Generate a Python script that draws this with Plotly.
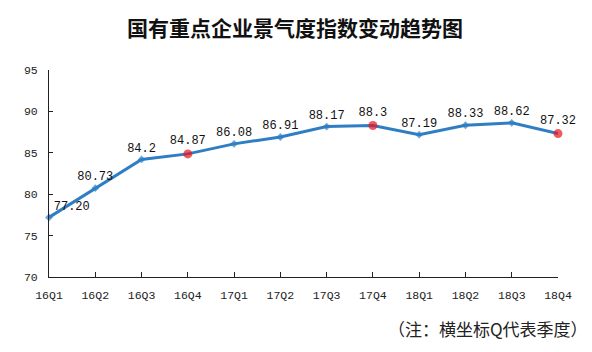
import plotly.graph_objects as go

quarters = ["16Q1", "16Q2", "16Q3", "16Q4", "17Q1", "17Q2", "17Q3", "17Q4", "18Q1", "18Q2", "18Q3", "18Q4"]
values = [77.20, 80.73, 84.2, 84.87, 86.08, 86.91, 88.17, 88.3, 87.19, 88.33, 88.62, 87.32]
labels = ["77.20", "80.73", "84.2", "84.87", "86.08", "86.91", "88.17", "88.3", "87.19", "88.33", "88.62", "87.32"]
highlight = ["16Q4", "17Q4", "18Q4"]

xi = list(range(len(quarters)))
line_color = "#2f7ec4"
marker_colors = ["#e8141b" if q in highlight else line_color for q in quarters]
marker_sizes = [9 if q in highlight else 6 for q in quarters]
marker_symbols = ["circle" if q in highlight else "diamond" for q in quarters]
text_pos = ["top right"] + ["top center"] * (len(quarters) - 1)

fig = go.Figure()
fig.add_trace(go.Scatter(
    x=xi, y=values, mode="lines+markers+text",
    line=dict(color=line_color, width=3),
    marker=dict(color=marker_colors, size=marker_sizes, symbol=marker_symbols, line=dict(width=0)),
    text=labels, textposition=text_pos,
    textfont=dict(family="Liberation Mono", size=12, color="#111"),
    cliponaxis=False, hoverinfo="skip",
))

fig.update_layout(
    width=592, height=352,
    margin=dict(l=49, r=34, t=70, b=75),
    paper_bgcolor="white", plot_bgcolor="white",
    showlegend=False,
    title=dict(text="<b>国有重点企业景气度指数变动趋势图</b>", xref="container", x=295/592, xanchor="center",
               y=1 - 29/352, yanchor="middle",
               font=dict(family="Noto Sans CJK SC", size=21, color="#111")),
    xaxis=dict(range=[0, 11], tickvals=xi, ticktext=quarters, showgrid=False, zeroline=False,
               showline=True, linecolor="#222", linewidth=1, ticks="inside", ticklen=5,
               tickcolor="#222", ticklabelstandoff=7,
               tickfont=dict(family="Liberation Mono", size=11.5, color="#222")),
    yaxis=dict(range=[70, 95], dtick=5, showgrid=False, zeroline=False,
               showline=True, linecolor="#222", linewidth=1, ticks="inside", ticklen=4,
               tickcolor="#222", ticklabelstandoff=8,
               tickfont=dict(family="Liberation Mono", size=11.5, color="#222")),
    annotations=[dict(text="（注：横坐标Q代表季度）", xref="paper", yref="paper", x=1.0, y=0,
                      xanchor="right", yanchor="middle", yshift=-(328 - 277), xshift=32,
                      showarrow=False,
                      font=dict(family="Noto Sans CJK SC", size=17, color="#222"))],
)

fig.write_html("out.html")
